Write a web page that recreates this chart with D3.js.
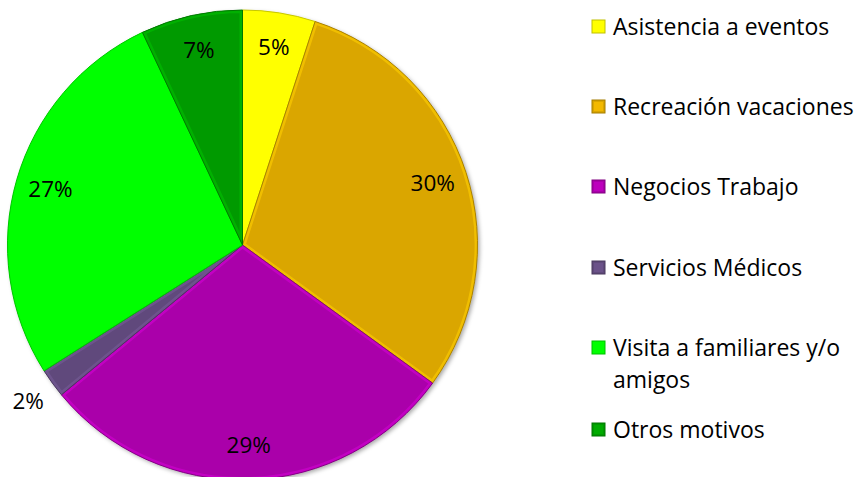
<!DOCTYPE html>
<html><head><meta charset="utf-8">
<script src="https://cdn.jsdelivr.net/npm/d3@7"></script>
<style>body{margin:0;background:#fff}svg{display:block}</style>
</head><body>
<svg id="c" width="857" height="477"></svg>
<script>
const categories = ["Asistencia a eventos","Recreación vacaciones","Negocios Trabajo","Servicios Médicos","Visita a familiares y/o amigos","Otros motivos"];
const values = [5,30,29,2,27,7];
const labels = ["5%","30%","29%","2%","27%","7%"];
const colors = ["#FFFF00","#DAA600","#AA00AA","#604A7B","#00FF00","#009A00"];
const legendLines = [["Asistencia a eventos"],["Recreación vacaciones"],["Negocios Trabajo"],["Servicios Médicos"],["Visita a familiares y/o","amigos"],["Otros motivos"]];

const svg = d3.select("#c");
const font = "'Open Sans', sans-serif";
const defs = svg.append("defs");
const f = defs.append("filter").attr("id","sh").attr("x","-10%").attr("y","-10%").attr("width","130%").attr("height","130%");
f.append("feDropShadow").attr("dx",2).attr("dy",2).attr("stdDeviation",2).attr("flood-color","#000").attr("flood-opacity",0.35);

const cx = 242.5, cy = 245, R = 235;
const pie = d3.pie().sort(null).value(d=>d)(values);
const arc = d3.arc().innerRadius(0).outerRadius(R);
const g = svg.append("g").attr("transform",`translate(${cx},${cy})`);
g.append("g").attr("filter","url(#sh)").selectAll("path").data(pie).join("path")
  .attr("d",arc).attr("fill",(d,i)=>colors[i]);
pie.forEach((d,i)=>{
  const cp = defs.append("clipPath").attr("id","cl"+i);
  cp.append("path").attr("d",arc(d));
  g.append("path").attr("d",arc(d)).attr("fill","none")
    .attr("stroke",d3.color(colors[i]).brighter(0.6)).attr("stroke-width",6).attr("stroke-opacity",0.6)
    .attr("clip-path",`url(#cl${i})`);
  g.append("path").attr("d",arc(d)).attr("fill","none")
    .attr("stroke",d3.color(colors[i]).darker(0.7)).attr("stroke-width",1);
});
const lr = d3.arc().innerRadius(200).outerRadius(200);
const lo = d3.arc().innerRadius(265).outerRadius(265);
g.selectAll("text").data(pie).join("text")
  .attr("transform",(d,i)=>`translate(${(values[i]<3?lo:lr).centroid(d)})`)
  .attr("text-anchor","middle").attr("dy","0.35em")
  .attr("font-family",font).attr("font-size",22.5).attr("fill","#000")
  .text((d,i)=>labels[i]);

const rowY = [27,107,187,268,348,430];
const lg = svg.append("g");
categories.forEach((c,i)=>{
  const y = rowY[i];
  lg.append("rect").attr("x",592).attr("y",y-7).attr("width",13).attr("height",13)
    .attr("fill",colors[i]).attr("stroke",d3.color(colors[i]).darker(0.8)).attr("stroke-width",1);
  lg.append("rect").attr("x",594).attr("y",y-5).attr("width",9).attr("height",9)
    .attr("fill",d3.color(colors[i]).brighter(0.3));
  legendLines[i].forEach((t,j)=>{
    lg.append("text").attr("x",613).attr("y",y+j*32).attr("dy","0.35em")
      .attr("font-family",font).attr("font-size",23).attr("fill","#000").text(t);
  });
});
</script>
</body></html>
